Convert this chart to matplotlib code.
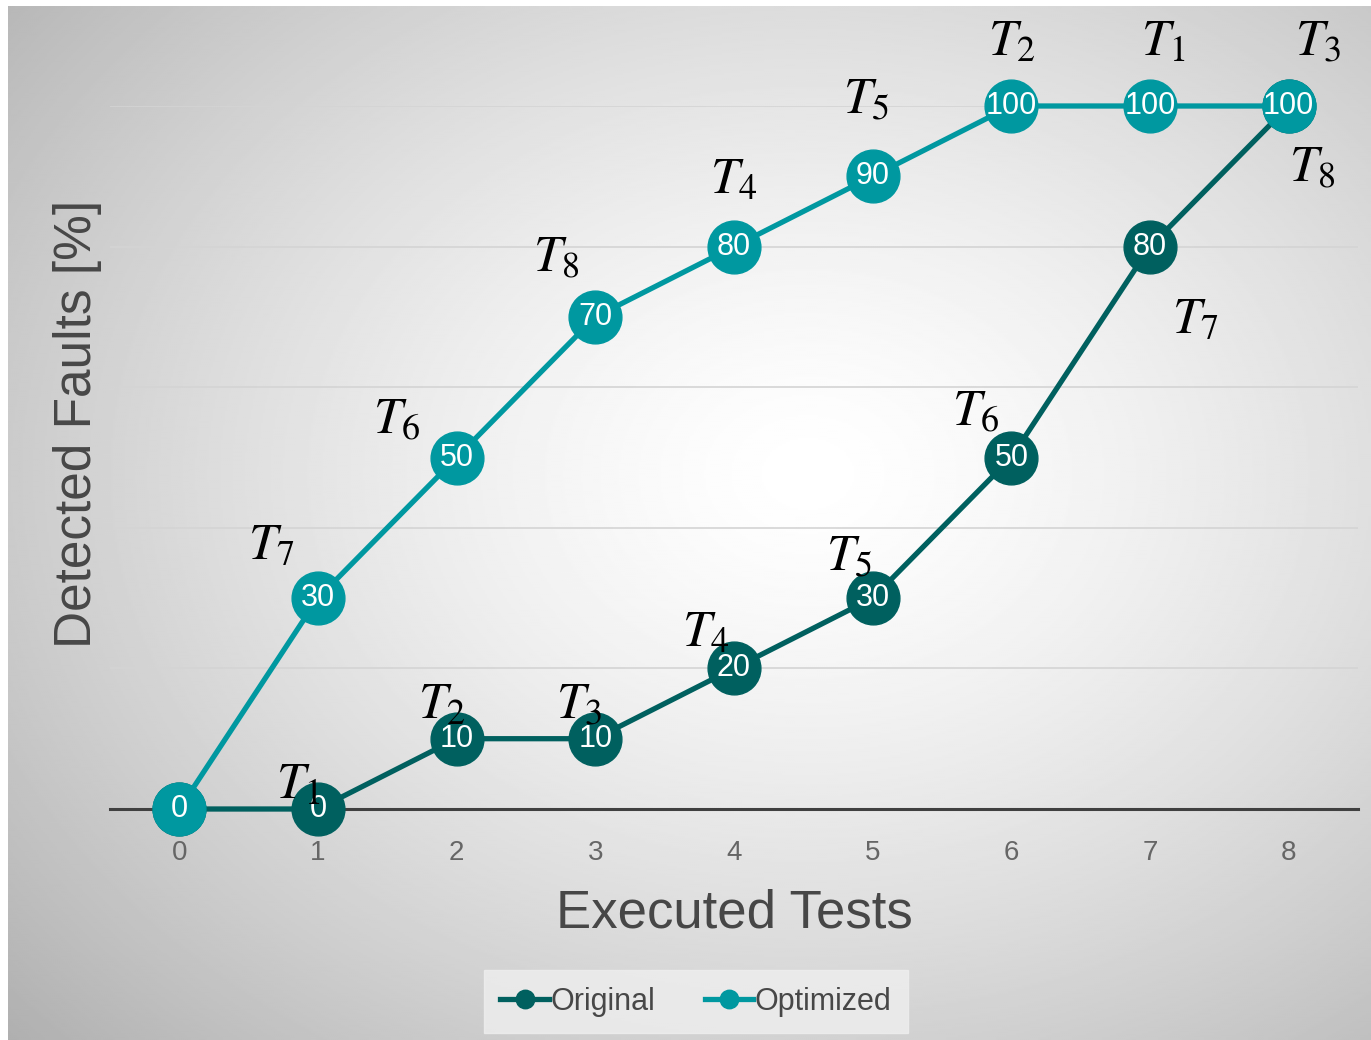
import numpy as np
import matplotlib.pyplot as plt

# data
tests = [0, 1, 2, 3, 4, 5, 6, 7, 8]
original = [0, 0, 10, 10, 20, 30, 50, 80, 100]
optimized = [0, 30, 50, 70, 80, 90, 100, 100, 100]
original_tags = [None, "1", "2", "3", "4", "5", "6", "7", "8"]
optimized_tags = [None, "7", "6", "8", "4", "5", "2", "1", "3"]

# label offsets in pixels (placement only)
orig_off = [None, (-20, 24), (-15, 34), (-16, 34), (-28, 36), (-24, 41),
            (-36, 45), (45, -73), (24, -62)]
opt_off = [None, (-47, 53), (-60, 37), (-39, 59), (0, 67), (-7, 76),
           (0, 64), (13, 64), (29, 64)]

C_ORIG = "#00605f"
C_OPT = "#0098a0"
GRAY = "#474747"

plt.rcParams["mathtext.fontset"] = "stix"
plt.rcParams["font.family"] = ["Liberation Sans", "DejaVu Sans"]

W, H = 1371, 1040
fig = plt.figure(figsize=(W / 100, H / 100), dpi=100)

# radial gradient background
bg = fig.add_axes([8 / W, 0, 1 - 8 / W, 1 - 6 / H])
yy, xx = np.mgrid[0:520, 0:682]
xx = xx * 2.0
yy = yy * 2.0
d = np.sqrt(((xx - 800) / 900) ** 2 + ((yy - 470) / 700) ** 2)
shade = 1.0 - 0.24 * np.clip(d, 0, 1.3) ** 1.4
bg.imshow(shade, cmap="gray", vmin=0, vmax=1, aspect="auto",
          extent=[0, 1, 0, 1], interpolation="bilinear")
bg.set_axis_off()

ax = fig.add_axes([110 / W, (H - 809) / H, 1248 / W, 703 / H])
ax.patch.set_alpha(0)
ax.set_xlim(-0.5, 8.5)
ax.set_ylim(0, 100)
ax.set_yticks([0, 20, 40, 60, 80, 100])
ax.yaxis.grid(True, color="#d4d4d4", lw=1.2)
ax.set_axisbelow(True)
ax.tick_params(axis="y", left=False, labelleft=False)
ax.tick_params(axis="x", length=0, labelsize=20, labelcolor="#666666", pad=22)
ax.set_xticks(tests)
for s in ["left", "right", "top"]:
    ax.spines[s].set_visible(False)
ax.spines["bottom"].set_color("#404040")
ax.spines["bottom"].set_linewidth(2.2)

for ys, col, lab, z in [(original, C_ORIG, "Original", 3), (optimized, C_OPT, "Optimized", 4)]:
    ax.plot(tests, ys, color=col, lw=3.8, marker="o", markersize=38,
            label=lab, clip_on=False, zorder=z)
    for x, y in zip(tests, ys):
        ax.text(x, y, str(y), color="white", fontsize=22, ha="center",
                va="center", zorder=z + 0.5, clip_on=False)

for ys, tags, offs in [(original, original_tags, orig_off), (optimized, optimized_tags, opt_off)]:
    for x, y, t, o in zip(tests, ys, tags, offs):
        if t is None:
            continue
        ax.annotate(r"$T_{%s}$" % t, (x, y), xytext=o, textcoords="offset pixels",
                    fontsize=37, ha="center", va="center", color="black",
                    zorder=10, annotation_clip=False)

ax.set_xlabel("Executed Tests", fontsize=38, color=GRAY)
ax.xaxis.label.set_va("center")
ax.xaxis.set_label_coords(0.5, -0.148)
ax.set_ylabel("Detected Faults [%]", fontsize=37, color=GRAY)
ax.yaxis.label.set_va("center")
ax.yaxis.set_label_coords(-0.026, 0.548)

leg = ax.legend(loc="center", bbox_to_anchor=(0.4696, -0.274), ncol=2,
                fontsize=22, frameon=True, handlelength=1.6, handletextpad=0.05,
                columnspacing=1.6, markerscale=0.35, borderpad=0.25,
                borderaxespad=0)
leg.get_frame().set_facecolor("#efefef")
leg.get_frame().set_edgecolor("#efefef")
leg.get_frame().set_boxstyle("square")
for t in leg.get_texts():
    t.set_color(GRAY)

fig.savefig("out.png", dpi=100)
